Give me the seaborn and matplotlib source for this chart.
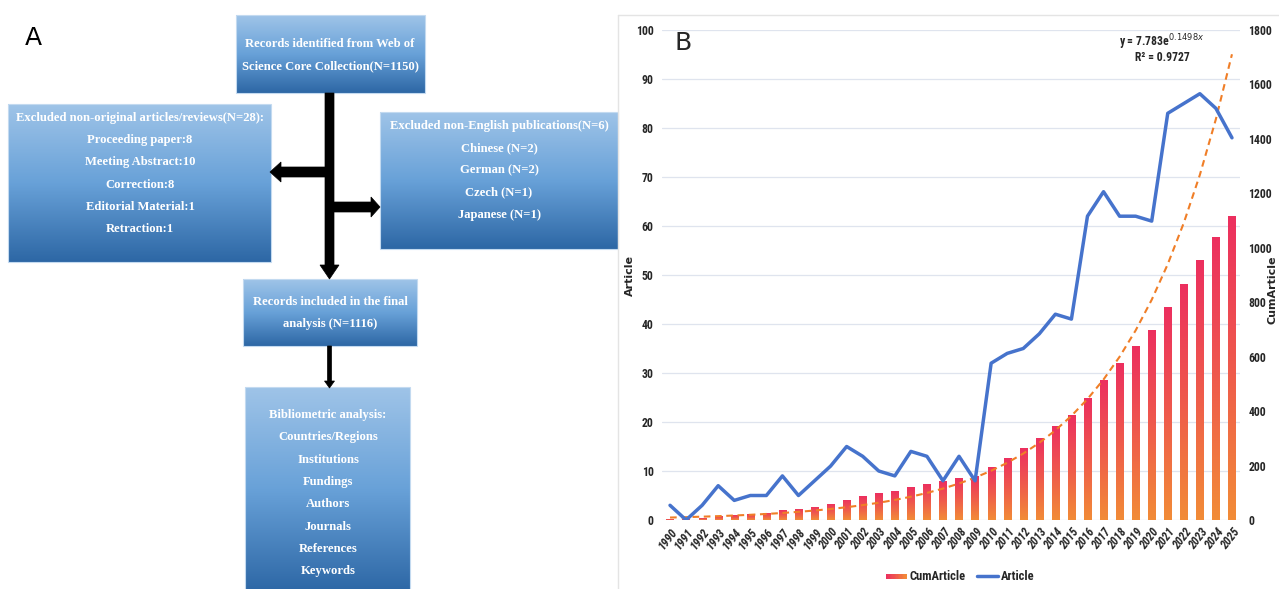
import numpy as np
import pandas as pd
import matplotlib
matplotlib.use("Agg")
import matplotlib.pyplot as plt
import seaborn as sns
from matplotlib import font_manager
from matplotlib.patches import Rectangle, Polygon
from matplotlib.colors import LinearSegmentedColormap
from matplotlib.legend_handler import HandlerBase
from matplotlib.lines import Line2D

# ---------------- data ----------------
years = list(range(1990, 2026))
articles = [3, 0, 3, 7, 4, 5, 5, 9, 5, 8, 11, 15, 13, 10, 9, 14, 13, 8, 13, 8,
            32, 34, 35, 38, 42, 41, 62, 67, 62, 62, 61, 83, 85, 87, 84, 78]
trend_a = 7.783
trend_b = 0.1498
r_squared = 0.9727

identified_lines = ["Records identified from Web of", "Science Core Collection(N=1150)"]
excluded_type_lines = ["Excluded non-original articles/reviews(N=28):", "Proceeding paper:8",
                       "Meeting Abstract:10", "Correction:8", "Editorial Material:1", "Retraction:1"]
excluded_lang_lines = ["Excluded non-English publications(N=6)", "Chinese (N=2)", "German (N=2)",
                       "Czech (N=1)", "Japanese (N=1)"]
included_lines = ["Records included in the final", "analysis (N=1116)"]
analysis_lines = ["Bibliometric analysis:", "Countries/Regions", "Institutions", "Fundings",
                  "Authors", "Journals", "References", "Keywords"]

df = pd.DataFrame({"year": years, "Article": articles})
df["CumArticle"] = np.cumsum(df["Article"])
df["trend"] = trend_a * np.exp(trend_b * (df["year"] - years[0] + 1))

# ---------------- fonts ----------------
sns.set_style("white")
plt.rcParams["font.family"] = ["DejaVu Sans"]


def _wnum(w):
    return w if isinstance(w, int) else font_manager.weight_dict.get(w, 400)


def pick_bold_family(candidates):
    entries = font_manager.fontManager.ttflist
    for name in candidates:
        if any(f.name == name and _wnum(f.weight) >= 600 and f.style == "normal"
               for f in entries):
            return name
    return candidates[-1]


narrow = pick_bold_family(["Roboto Condensed", "Asap Condensed", "Archivo Narrow",
                           "Liberation Sans"])
serif_cond = pick_bold_family(["Noto Serif ExtraCondensed", "Noto Serif Condensed",
                               "Noto Serif SemiCondensed", "Liberation Serif"])

W, H = 1279, 589
fig = plt.figure(figsize=(W / 100, H / 100), dpi=100)
renderer = fig.canvas.get_renderer()

# size the flow-diagram font so the widest line fits its box
probe = fig.text(0, 0, excluded_type_lines[0], family=serif_cond, fontweight="bold", fontsize=10)
probe_w = probe.get_window_extent(renderer).width
probe.remove()
flow_size = min(12.0, 10 * 250 / probe_w)

box_cmap = LinearSegmentedColormap.from_list("box", ["#9fc4e8", "#68a1d8", "#2d67a5"])
bar_cmap = LinearSegmentedColormap.from_list("bar", ["#f28c37", "#ef5a4c", "#ec2f5f"])

# ---------------- panel A: flow diagram ----------------
axA = fig.add_axes([0, 0, 620 / W, 1])
axA.axis("off")

serif = dict(family=serif_cond, fontweight="bold", color="white", fontsize=flow_size,
             ha="center", va="center")


def gradient_box(x0, y0, x1, y1):
    grad = np.linspace(0, 1, 256).reshape(-1, 1)
    axA.imshow(grad, cmap=box_cmap, extent=(x0, x1, y1, y0), origin="upper",
               aspect="auto", zorder=1, interpolation="bilinear")
    axA.add_patch(Rectangle((x0, y0), x1 - x0, y1 - y0, fill=False,
                            edgecolor="#c3daf0", lw=0.8, zorder=2))


def box_text(lines, cx, y_first, step=22.2):
    for i, t in enumerate(lines):
        axA.text(cx, y_first + i * step, t, zorder=3, **serif)


gradient_box(236, 15, 425, 93)
box_text(identified_lines, 330, 44)
gradient_box(8, 104, 271, 262)
box_text(excluded_type_lines, 140, 118)
gradient_box(380, 112, 618, 249)
box_text(excluded_lang_lines, 499, 126)
gradient_box(243, 279, 417, 346)
box_text(included_lines, 330, 302)
gradient_box(245, 387, 410, 592)
box_text(analysis_lines, 328, 415, 22.3)

arrow_kw = dict(closed=True, facecolor="black", edgecolor="black", lw=0.5, zorder=4)
axA.add_patch(Polygon([(325, 93), (334, 93), (334, 265), (339, 265), (329.5, 279),
                       (320, 265), (325, 265)], **arrow_kw))
axA.add_patch(Polygon([(325, 167), (325, 177), (281, 177), (281, 182), (270, 172),
                       (281, 162), (281, 167)], **arrow_kw))
axA.add_patch(Polygon([(334, 202), (334, 212), (371, 212), (371, 217), (380, 207),
                       (371, 197), (371, 202)], **arrow_kw))
axA.add_patch(Polygon([(327.5, 346), (331.5, 346), (331.5, 381), (334.5, 381), (329.5, 388),
                       (324.5, 381), (327.5, 381)], **arrow_kw))

axA.set_xlim(0, 620)
axA.set_ylim(589, 0)
axA.text(33, 38, "A", fontsize=18, ha="center", va="center", color="black", zorder=5)

# ---------------- panel B: publications per year ----------------
fig.add_artist(Line2D([618 / W, 1], [1 - 15 / H, 1 - 15 / H], color="#e4e4e4", lw=1))
fig.add_artist(Line2D([618 / W, 618 / W], [0, 1 - 15 / H], color="#e4e4e4", lw=1))

axL = fig.add_axes([662 / W, 69 / H, 578 / W, 490 / H])
axR = axL.twinx()

# cumulative bars with a vertical colour gradient
sns.barplot(data=df, x="year", y="CumArticle", native_scale=True, width=0.45,
            color="#ef5a4c", ax=axR, zorder=2)
grad = np.linspace(0, 1, 256).reshape(-1, 1)
for p in list(axR.patches):
    x, y0 = p.get_x(), p.get_y()
    w, h = p.get_width(), p.get_height()
    im = axR.imshow(grad, cmap=bar_cmap, extent=(x, x + w, y0, y0 + h), origin="lower",
                    aspect="auto", zorder=2, interpolation="bilinear")
    im.set_clip_path(p)
    p.set_facecolor("none")
    p.set_edgecolor("none")

# exponential fit of the cumulative counts
sns.lineplot(data=df, x="year", y="trend", ax=axR, color="#f07e27", lw=1.5,
             linestyle=(0, (3.2, 2.2)), zorder=3)
# annual output
sns.lineplot(data=df, x="year", y="Article", ax=axL, color="#4673cc", lw=2.5, zorder=3)

axL.set_zorder(axR.get_zorder() + 1)
axL.patch.set_visible(False)

axL.set_xlim(years[0] - 0.5, years[-1] + 0.5)
axL.set_ylim(0, 100)
axR.set_ylim(0, 1800)
axL.set_yticks(np.arange(0, 101, 10))
axR.set_yticks(np.arange(0, 1801, 200))
# grid on the lower axes (behind the bars), aligned with the left-hand ticks
axR.set_yticks(np.arange(0, 1801, 180), minor=True)
axR.yaxis.remove_overlapping_locs = False
axR.yaxis.grid(True, which="minor", color="#dfe4ee", lw=0.9, zorder=0)
axR.yaxis.grid(False, which="major")
axL.grid(False)
axR.xaxis.grid(False)

axL.set_xticks(years)
axL.set_xticklabels([str(y) for y in years], rotation=52, ha="right", va="top",
                    rotation_mode="anchor", fontsize=8.5, fontweight="bold",
                    fontstyle="italic", family=narrow)
axR.set_xticks(years)
axR.tick_params(axis="x", labelbottom=False)

for ax in (axL, axR):
    ax.tick_params(axis="both", which="both", length=0)
    for s in ax.spines.values():
        s.set_visible(False)
axL.tick_params(axis="y", pad=6, labelsize=8.5)
axR.tick_params(axis="y", pad=6, labelsize=8.5)
axL.tick_params(axis="x", pad=4)
for lab in axL.get_yticklabels() + axR.get_yticklabels():
    lab.set_fontweight("bold")
    lab.set_family(narrow)

axL.set_xlabel("")
axL.set_ylabel("Article", fontsize=8, fontweight="bold")
axR.set_ylabel("CumArticle", fontsize=8, fontweight="bold", rotation=90)
axL.yaxis.set_label_coords(-0.046, 0.5)
axR.yaxis.set_label_coords(1.047, 0.47)

eq = f"y = {trend_a}e$^{{{trend_b}x}}$"
axR.text(0.865, 0.975, eq, transform=axR.transAxes, ha="center", va="center",
         fontsize=8.5, fontweight="bold", family=narrow)
axR.text(0.865, 0.943, f"R² = {r_squared}", transform=axR.transAxes, ha="center",
         va="center", fontsize=8.5, fontweight="bold", family=narrow)

fig.text(683 / W, 1 - 43 / H, "B", fontsize=18, ha="center", va="center")


class GradientPatchHandler(HandlerBase):
    def create_artists(self, legend, orig_handle, xdescent, ydescent, width, height,
                       fontsize, trans):
        n = 16
        arts = []
        for i in range(n):
            arts.append(Rectangle((-xdescent + width * i / n, -ydescent + height * 0.2),
                                  width / n * 1.05, height * 0.6,
                                  facecolor=bar_cmap(1 - i / (n - 1)), edgecolor="none",
                                  transform=trans))
        return arts


bar_handle = Rectangle((0, 0), 1, 1)
line_handle = Line2D([], [], color="#4673cc", lw=2.5)
fig.legend([bar_handle, line_handle], ["CumArticle", "Article"], loc="center",
           bbox_to_anchor=(960 / W, 1 - 577 / H), ncol=2, frameon=False,
           handlelength=1.7, handletextpad=0.2, columnspacing=0.9,
           prop=dict(family=narrow, weight="bold", size=9),
           handler_map={Rectangle: GradientPatchHandler()})

fig.savefig("out.png", dpi=100)
